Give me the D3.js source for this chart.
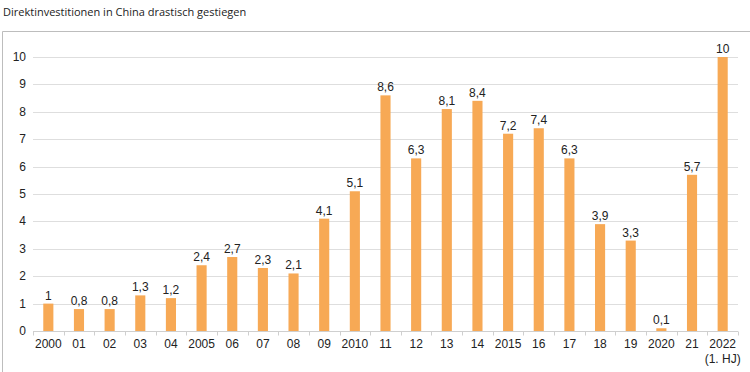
<!DOCTYPE html>
<html>
<head>
<meta charset="utf-8">
<script src="https://cdn.jsdelivr.net/npm/d3@7"></script>
<style>
  body { margin: 0; background: #fff; }
  svg { display: block; }
</style>
</head>
<body>
<div id="chart"></div>
<script>
var years = ["2000", "01", "02", "03", "04", "2005", "06", "07", "08", "09", "2010",
             "11", "12", "13", "14", "2015", "16", "17", "18", "19", "2020", "21", "2022"];
var values = [1, 0.8, 0.8, 1.3, 1.2, 2.4, 2.7, 2.3, 2.1, 4.1, 5.1,
              8.6, 6.3, 8.1, 8.4, 7.2, 7.4, 6.3, 3.9, 3.3, 0.1, 5.7, 10];
var yTicks = [0, 1, 2, 3, 4, 5, 6, 7, 8, 9, 10];
var title = "Direktinvestitionen in China drastisch gestiegen";

var width = 750,
    height = 372,
    margin = { top: 57, right: 12, bottom: 41, left: 33 };

var svg = d3.select("#chart")
            .append("svg")
            .attr("width", width)
            .attr("height", height);

// frame
svg.append("path")
   .attr("d", "M2.5," + height + "V31.5H" + width)
   .attr("fill", "none")
   .attr("stroke", "#bdbdbd")
   .attr("stroke-width", 1);

svg.append("text")
   .attr("x", 3)
   .attr("y", 16)
   .attr("font-family", "'Open Sans', sans-serif")
   .attr("font-size", 11)
   .attr("fill", "#222")
   .text(title);

var x = d3.scaleBand()
          .domain(years)
          .range([margin.left, width - margin.right])
          .paddingInner(0.67)
          .paddingOuter(0.335);

var y = d3.scaleLinear()
          .domain([0, 10])
          .range([height - margin.bottom, margin.top]);

var g = svg.append("g")
           .attr("font-family", "'Liberation Sans', Arial, sans-serif");

// gridlines
g.selectAll("line.grid")
 .data(yTicks.slice(1))
 .enter().append("line")
 .attr("class", "grid")
 .attr("x1", margin.left)
 .attr("x2", width - margin.right)
 .attr("y1", function (d) { return Math.round(y(d)) + 0.5; })
 .attr("y2", function (d) { return Math.round(y(d)) + 0.5; })
 .attr("stroke", "#dedede");

// y labels
g.selectAll("text.ylab")
 .data(yTicks)
 .enter().append("text")
 .attr("class", "ylab")
 .attr("x", 26)
 .attr("y", function (d) { return y(d) + 4; })
 .attr("text-anchor", "end")
 .attr("font-size", 12)
 .attr("fill", "#222")
 .text(function (d) { return d; });

// bars
g.selectAll("rect.bar")
 .data(values)
 .enter().append("rect")
 .attr("class", "bar")
 .attr("x", function (d, i) { return x(years[i]); })
 .attr("width", x.bandwidth())
 .attr("y", function (d) { return y(d); })
 .attr("height", function (d) { return y(0) - y(d); })
 .attr("fill", "#f7a955");

// value labels
g.selectAll("text.val")
 .data(values)
 .enter().append("text")
 .attr("class", "val")
 .attr("x", function (d, i) { return x(years[i]) + x.bandwidth() / 2; })
 .attr("y", function (d) { return y(d) - 4; })
 .attr("text-anchor", "middle")
 .attr("font-size", 12)
 .attr("fill", "#222")
 .text(function (d) { return String(d).replace(".", ","); });

// x axis
var base = Math.round(y(0)) + 0.5;
g.append("line")
 .attr("x1", margin.left)
 .attr("x2", width - margin.right)
 .attr("y1", base)
 .attr("y2", base)
 .attr("stroke", "#cfcfcf");

var step = x.step();
var bounds = d3.range(years.length + 1).map(function (i) { return margin.left + i * step; });
g.selectAll("line.tick")
 .data(bounds)
 .enter().append("line")
 .attr("class", "tick")
 .attr("x1", function (d) { return Math.round(d) + 0.5; })
 .attr("x2", function (d) { return Math.round(d) + 0.5; })
 .attr("y1", base)
 .attr("y2", base + 4)
 .attr("stroke", "#cfcfcf");

g.selectAll("text.xlab")
 .data(years)
 .enter().append("text")
 .attr("class", "xlab")
 .attr("x", function (d) { return x(d) + x.bandwidth() / 2; })
 .attr("y", base + 16)
 .attr("text-anchor", "middle")
 .attr("font-size", 12)
 .attr("fill", "#222")
 .text(function (d) { return d; });

g.append("text")
 .attr("x", x("2022") + x.bandwidth() / 2)
 .attr("y", base + 31)
 .attr("text-anchor", "middle")
 .attr("font-size", 12)
 .attr("fill", "#222")
 .text("(1. HJ)");
</script>
</body>
</html>
